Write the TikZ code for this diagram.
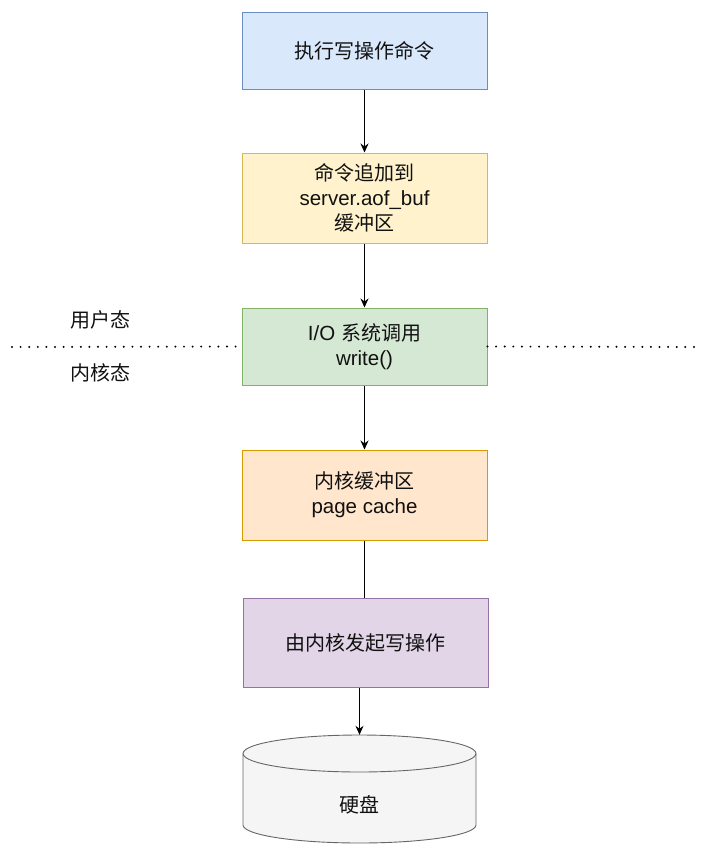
\documentclass[tikz,border=0pt]{standalone}
\usepackage{fontspec}
\setmainfont{Liberation Sans}
\newfontfamily\cjk{Noto Sans CJK SC}
\usetikzlibrary{arrows.meta}
\definecolor{bluef}{HTML}{DAE8FC}\definecolor{blued}{HTML}{6C8EBF}
\definecolor{yelf}{HTML}{FFF2CC}\definecolor{yeld}{HTML}{D6B656}
\definecolor{grnf}{HTML}{D5E8D4}\definecolor{grnd}{HTML}{82B366}
\definecolor{orgf}{HTML}{FFE6CC}\definecolor{orgd}{HTML}{D79B00}
\definecolor{purf}{HTML}{E1D5E7}\definecolor{purd}{HTML}{9673A6}
\definecolor{cylf}{HTML}{F5F5F5}\definecolor{cyld}{HTML}{666666}
\definecolor{txt}{HTML}{111111}
\begin{document}
\begin{tikzpicture}[x=1pt,y=-1pt,
  box/.style={draw, line width=1pt, minimum width=245pt, inner sep=0pt, align=center,
    text=txt, font=\fontsize{20.5}{25}\selectfont},
  lbl/.style={text=txt, font=\cjk\fontsize{20}{25}\selectfont, inner sep=0pt},
  arr/.style={-{Stealth[length=9pt,width=8pt]}, line width=0.9pt, black},
  plain/.style={line width=0.9pt, black},
  dots/.style={line width=2.2pt, dash pattern=on 0pt off 8.6pt, line cap=round, black}]
\useasboundingbox (0,0) rectangle (701,862);

\node[box, fill=bluef, draw=blued, minimum height=77pt] (n1) at (364.5,50.5) {\cjk\fontsize{20}{25}\selectfont 执行写操作命令};
\node[box, fill=yelf, draw=yeld, minimum height=90pt] (n2) at (364.5,198) {{\cjk\fontsize{20}{25}\selectfont 命令追加到}\\server.aof\_buf\\{\cjk\fontsize{20}{25}\selectfont 缓冲区}};
\node[box, fill=grnf, draw=grnd, minimum height=77pt] (n3) at (364.5,346.5) {I/O {\cjk\fontsize{20}{25}\selectfont 系统调用}\\write()};
\node[box, fill=orgf, draw=orgd, minimum height=90pt] (n4) at (364.5,495) {{\cjk\fontsize{20}{25}\selectfont 内核缓冲区}\\page cache};
\node[box, fill=purf, draw=purd, minimum height=89pt] (n5) at (365.5,642.5) {\cjk\fontsize{20}{25}\selectfont 由内核发起写操作};

% cylinder
\filldraw[fill=cylf, draw=cyld, line width=0.9pt] (243,753.5) -- (243,825)
  arc[start angle=180, end angle=360, x radius=116.5pt, y radius=18pt]
  -- (476,753.5)
  arc[start angle=0, end angle=180, x radius=116.5pt, y radius=18.5pt] -- cycle;
\draw[draw=cyld, line width=0.9pt] (243,753.5)
  arc[start angle=180, end angle=360, x radius=116.5pt, y radius=18.5pt];
\node[inner sep=0pt, minimum width=233pt, minimum height=108pt] (disk) at (359.5,789) {};
\node[lbl] (disklbl) at (359.5,805) {硬盘};

% connectors
\draw[arr] (n1.south) -- (n2.north);
\draw[arr] (n2.south) -- (n3.north);
\draw[arr] (n3.south) -- (n4.north);
\draw[plain] (n4.south) -- (n5.north -| n4.south);
\draw[arr] (disk.north |- n5.south) -- (disk.north);

% user/kernel divider
\coordinate (dl) at (12,347);
\coordinate (dr) at (697,347);
\draw[dots] (dl) -- (n3.west);
\draw[dots] (n3.east) -- (dr);
\node[lbl] (user) at (100,320) {用户态};
\node[lbl] (kern) at (100,373) {内核态};
\end{tikzpicture}
\end{document}
